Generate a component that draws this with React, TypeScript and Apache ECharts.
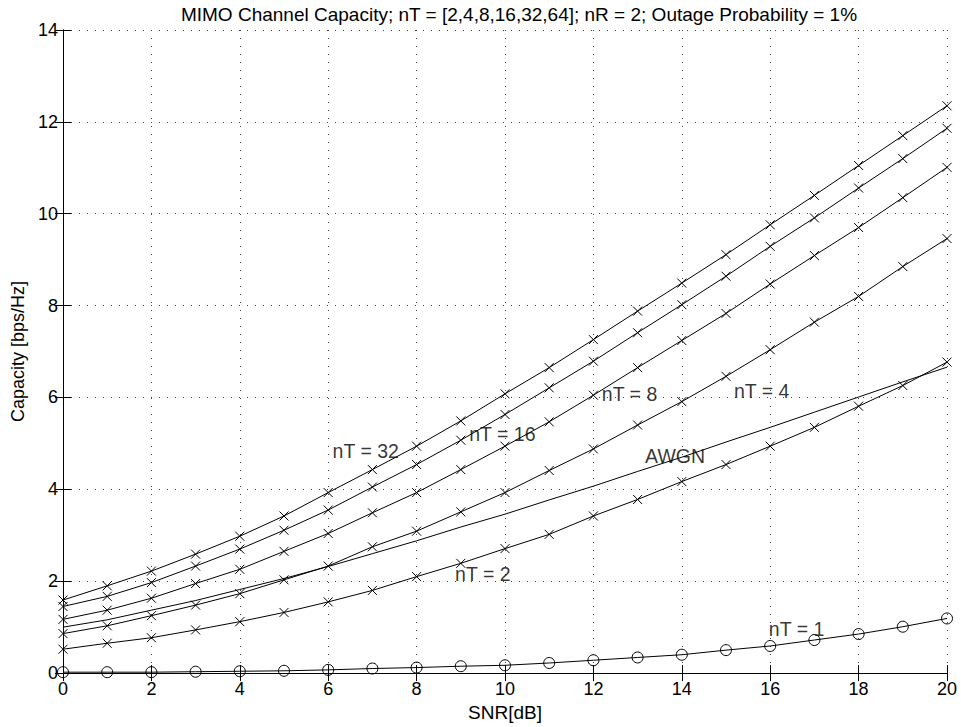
import React, { useEffect, useRef } from "react";
import * as echarts from "echarts";

const snr = [0, 1, 2, 3, 4, 5, 6, 7, 8, 9, 10, 11, 12, 13, 14, 15, 16, 17, 18, 19, 20];
const nT32 = [1.59, 1.9, 2.22, 2.59, 2.98, 3.42, 3.93, 4.43, 4.94, 5.49, 6.08, 6.65, 7.26, 7.88, 8.49, 9.11, 9.76, 10.4, 11.05, 11.7, 12.35];
const nT16 = [1.45, 1.67, 1.97, 2.33, 2.7, 3.11, 3.55, 4.05, 4.54, 5.07, 5.63, 6.21, 6.79, 7.41, 8.02, 8.64, 9.29, 9.91, 10.56, 11.2, 11.86];
const nT8 = [1.17, 1.37, 1.63, 1.95, 2.26, 2.65, 3.04, 3.49, 3.93, 4.43, 4.94, 5.47, 6.05, 6.65, 7.24, 7.83, 8.47, 9.09, 9.7, 10.35, 11.01];
const nT4 = [0.86, 1.03, 1.25, 1.48, 1.73, 2.03, 2.33, 2.75, 3.09, 3.51, 3.93, 4.41, 4.88, 5.4, 5.91, 6.46, 7.04, 7.64, 8.2, 8.85, 9.46];
const nT2 = [0.52, 0.65, 0.77, 0.94, 1.12, 1.32, 1.55, 1.8, 2.1, 2.39, 2.71, 3.02, 3.42, 3.78, 4.17, 4.54, 4.94, 5.35, 5.81, 6.26, 6.77];
const awgn = [1.0, 1.16, 1.37, 1.58, 1.82, 2.06, 2.32, 2.6, 2.88, 3.18, 3.46, 3.77, 4.07, 4.39, 4.7, 5.03, 5.35, 5.68, 6.01, 6.34, 6.66];
const nT1 = [0.02, 0.02, 0.02, 0.03, 0.04, 0.05, 0.07, 0.1, 0.12, 0.15, 0.17, 0.22, 0.28, 0.34, 0.4, 0.5, 0.59, 0.72, 0.85, 1.01, 1.19];

const annotationTexts = ["nT = 32", "nT = 16", "nT = 8", "nT = 4", "AWGN", "nT = 2", "nT = 1"];
const annotationX = [6.1, 9.19, 12.19, 15.18, 13.17, 8.87, 15.97];
const annotationY = [4.83, 5.2, 6.07, 6.14, 4.72, 2.15, 0.96];

const titleText = "MIMO Channel Capacity; nT = [2,4,8,16,32,64]; nR = 2; Outage Probability = 1%";
const xName = "SNR[dB]";
const yName = "Capacity [bps/Hz]";

const FONT = "'Liberation Sans', Arial, Helvetica, sans-serif";
const CROSS = "path://M0,0L10,10M10,0L0,10";

export default function App() {
  const ref = useRef<HTMLDivElement>(null);
  useEffect(() => {
    if (!ref.current) return;
    const chart = echarts.init(ref.current, undefined, { renderer: "svg" });
    const pair = (ys: number[]) => snr.map((x, i) => [x, ys[i]]);
    const lineSeries = (name: string, ys: number[], symbol: string, size: number) => ({
      name,
      type: "line",
      data: pair(ys),
      symbol,
      symbolSize: size,
      showSymbol: true,
      lineStyle: { color: "#000", width: 1 },
      itemStyle: { color: "transparent", borderColor: "#000", borderWidth: 1 },
      emphasis: { disabled: true },
      z: 3,
    });
    const axisCommon = {
      min: 0,
      interval: 2,
      axisLine: { show: true, lineStyle: { color: "#000", width: 1 } },
      axisTick: { show: true, inside: true, length: 8, lineStyle: { color: "#000", width: 1 } },
    };
    chart.setOption({
      animation: false,
      backgroundColor: "#fff",
      textStyle: { fontFamily: FONT },
      title: {
        text: titleText,
        left: 514,
        textAlign: "center",
        top: 0,
        textStyle: { fontFamily: FONT, fontSize: 19, fontWeight: "normal", color: "#000" },
      },
      grid: { left: 63, right: 14, top: 30, bottom: 53, containLabel: false },
      xAxis: [
        {
          ...axisCommon,
          type: "value",
          max: 20,
          position: "bottom",
          name: xName,
          nameLocation: "middle",
          nameGap: 27,
          nameTextStyle: { fontFamily: FONT, fontSize: 19, color: "#000" },
          axisLabel: { show: true, margin: 7, fontSize: 18, color: "#000", fontFamily: FONT },
          splitLine: { show: true, lineStyle: { color: "#444", width: 1, type: [1, 7] } },
        },
        {
          ...axisCommon,
          type: "value",
          max: 20,
          position: "top",
          axisLabel: { show: false },
          splitLine: { show: false },
        },
      ],
      yAxis: [
        {
          ...axisCommon,
          type: "value",
          max: 14,
          position: "left",
          name: yName,
          nameLocation: "middle",
          nameGap: 36,
          nameTextStyle: { fontFamily: FONT, fontSize: 18, color: "#000" },
          axisLabel: { show: true, margin: 5, fontSize: 18, color: "#000", fontFamily: FONT },
          splitLine: { show: true, lineStyle: { color: "#444", width: 1, type: [1, 7] } },
        },
        {
          ...axisCommon,
          type: "value",
          max: 14,
          position: "right",
          axisLabel: { show: false },
          splitLine: { show: false },
        },
      ],
      series: [
        lineSeries("nT = 32", nT32, CROSS, 9),
        lineSeries("nT = 16", nT16, CROSS, 9),
        lineSeries("nT = 8", nT8, CROSS, 9),
        lineSeries("nT = 4", nT4, CROSS, 9),
        lineSeries("nT = 2", nT2, CROSS, 9),
        { ...lineSeries("AWGN", awgn, "none", 0), showSymbol: false },
        lineSeries("nT = 1", nT1, "circle", 11),
        {
          name: "labels",
          type: "scatter",
          symbolSize: 0,
          silent: true,
          z: 5,
          data: annotationTexts.map((t, i) => ({ value: [annotationX[i], annotationY[i]], name: t })),
          label: {
            show: true,
            position: "right",
            distance: 0,
            formatter: (p: any) => p.name,
            fontFamily: FONT,
            fontSize: 19.5,
            color: "#000",
          },
        },
      ],
    });
    return () => chart.dispose();
  }, []);
  return <div ref={ref} style={{ width: 961, height: 727, position: "absolute", left: 0, top: 0 }} />;
}
